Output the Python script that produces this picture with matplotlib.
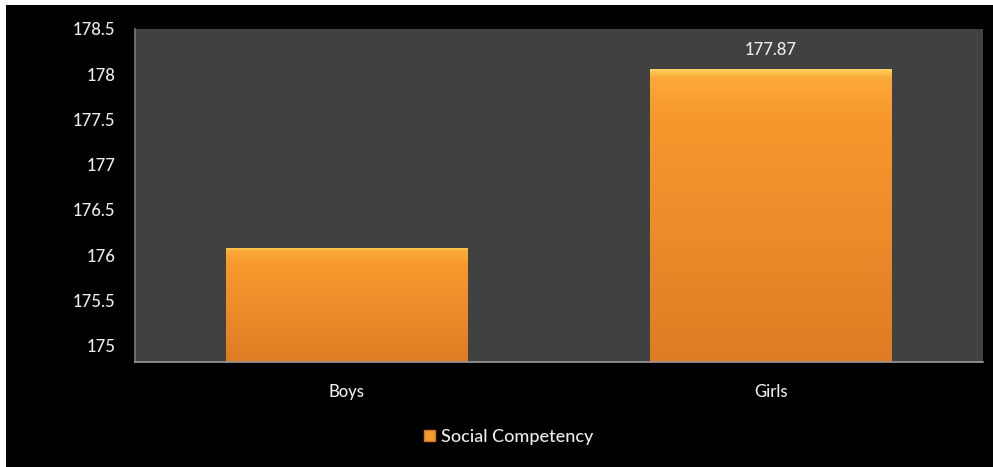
import numpy as np
import matplotlib.pyplot as plt
from matplotlib.colors import LinearSegmentedColormap
from matplotlib.patches import Rectangle

categories = ['Boys', 'Girls']
values = [176.08, 178.06]
value_labels = ['', '177.87']
series_name = 'Social Competency'
yticks = [175, 175.5, 176, 176.5, 177, 177.5, 178, 178.5]
ytick_labels = ['175', '175.5', '176', '176.5', '177', '177.5', '178', '178.5']

plt.rcParams['font.family'] = ['Lato', 'DejaVu Sans']
txt_color = '#ececec'

fig = plt.figure(figsize=(9.93, 4.67), dpi=100, facecolor='black')
# thin white strip at top and left edge of the screenshot
fig.patches.append(Rectangle((0, 1 - 5 / 467), 1, 5 / 467, transform=fig.transFigure,
                             facecolor='white', edgecolor='none', zorder=10))
fig.patches.append(Rectangle((0, 0), 6 / 993, 1, transform=fig.transFigure,
                             facecolor='white', edgecolor='none', zorder=10))

ax = fig.add_axes([135 / 993, 1 - 362 / 467, 848 / 993, 333 / 467])
ax.set_facecolor('#414141')

x = np.arange(len(categories))
bars = ax.bar(x, values, width=0.57, bottom=0, color='none', edgecolor='none', zorder=2)

ymin, ymax = 174.82, 178.5
ax.set_ylim(ymin, ymax)
ax.set_xlim(-0.5, len(categories) - 0.5)

cmap = LinearSegmentedColormap.from_list('bar', [
    (0.0, '#de7c24'), (0.85, '#f8992e'), (0.97, '#fbab3a'), (1.0, '#ffd462')])
for b in bars:
    x0 = b.get_x()
    w = b.get_width()
    top = b.get_height()
    grad = np.linspace(0, 1, 256).reshape(-1, 1)
    im = ax.imshow(grad, extent=[x0, x0 + w, ymin, top], origin='lower',
                   cmap=cmap, aspect='auto', zorder=2)
    clip = Rectangle((x0, ymin), w, top - ymin, transform=ax.transData)
    im.set_clip_path(clip)

for xi, v, lab in zip(x, values, value_labels):
    if lab:
        ax.text(xi, v + 0.12, lab, ha='center', va='bottom', color=txt_color,
                fontsize=12, fontweight='medium')

ax.set_xticks(x)
ax.set_xticklabels(categories, color=txt_color, fontsize=12, fontweight='medium')
ax.set_yticks(yticks)
ax.set_yticklabels(ytick_labels, color=txt_color, fontsize=12, fontweight='medium')
ax.tick_params(axis='both', length=0)
ax.tick_params(axis='x', pad=16)
ax.tick_params(axis='y', pad=14)

for s in ['top', 'right']:
    ax.spines[s].set_visible(False)
ax.spines['left'].set_color('#7a7a7a')
ax.spines['bottom'].set_color('#9a9a9a')
ax.spines['left'].set_linewidth(1.2)
ax.spines['bottom'].set_linewidth(1.2)

handle = Rectangle((0, 0), 1, 1, facecolor='#f39a2c', edgecolor='#c77a20')
leg = fig.legend([handle], [series_name], loc='center', bbox_to_anchor=(509 / 993, 1 - 437 / 467),
                 frameon=False, fontsize=13, handlelength=0.6, handleheight=0.6,
                 handletextpad=0.35,
                 prop={'size': 13, 'weight': 'medium'})
for t in leg.get_texts():
    t.set_color(txt_color)

fig.savefig('out.png', dpi=100, facecolor='black')
